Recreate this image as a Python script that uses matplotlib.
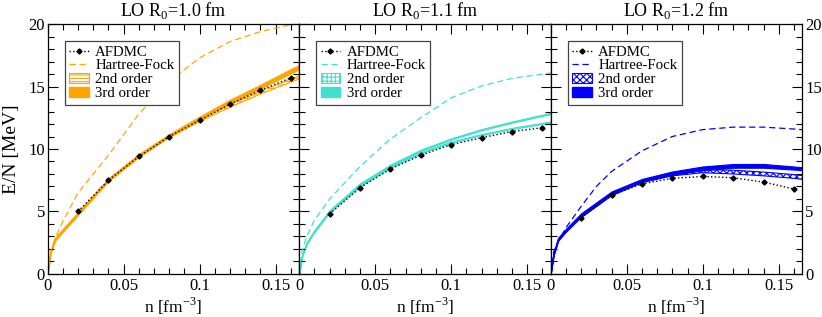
import matplotlib
matplotlib.use("Agg")
import matplotlib.pyplot as plt
from matplotlib.ticker import MultipleLocator, FuncFormatter
from matplotlib.patches import Patch
from matplotlib.lines import Line2D

plt.rcParams['font.family'] = ['Liberation Serif', 'DejaVu Serif']
plt.rcParams['mathtext.fontset'] = 'custom'
plt.rcParams['mathtext.rm'] = 'Liberation Serif'
plt.rcParams['hatch.linewidth'] = 0.8

titles = ["LO R$_0$=1.0 fm", "LO R$_0$=1.1 fm", "LO R$_0$=1.2 fm"]
colors = ["#FFA500", "#40E0D0", "#0000FF"]
hatches = ["-----", "++++", "xxxxx"]

n_afdmc = [0.02, 0.04, 0.06, 0.08, 0.10, 0.12, 0.14, 0.16]
afdmc_1 = [5.0, 7.5, 9.4, 11.0, 12.3, 13.6, 14.7, 15.7]
afdmc_2 = [4.8, 6.9, 8.4, 9.5, 10.35, 10.9, 11.4, 11.7]
afdmc_3 = [4.5, 6.3, 7.2, 7.65, 7.8, 7.7, 7.35, 6.8]

n_hf = [0, 0.002, 0.005, 0.01, 0.02, 0.03, 0.04, 0.06, 0.08, 0.10, 0.12, 0.14, 0.16, 0.17]
hf_1 = [0, 1.8, 2.9, 4.2, 6.5, 8.0, 9.5, 12.8, 15.4, 17.3, 18.6, 19.4, 19.95, 20.2]
hf_2 = [0, 1.9, 3.0, 4.3, 6.0, 7.3, 8.6, 10.8, 12.5, 14.1, 15.05, 15.65, 16.0, 16.15]
hf_3 = [0, 1.8, 2.6, 3.7, 5.4, 7.0, 8.2, 9.85, 11.0, 11.55, 11.75, 11.75, 11.6, 11.5]

n_pt = [0, 0.002, 0.005, 0.01, 0.02, 0.04, 0.06, 0.08, 0.10, 0.12, 0.14, 0.16, 0.17]
second_lo_1 = [0, 1.6, 2.6, 3.3, 4.65, 7.35, 9.3, 10.9, 12.2, 13.35, 14.4, 15.35, 15.8]
second_hi_1 = [0, 1.8, 2.8, 3.5, 4.85, 7.55, 9.45, 11.05, 12.35, 13.55, 14.6, 15.6, 16.05]
third_lo_1 = [0, 1.7, 2.7, 3.4, 4.75, 7.45, 9.4, 11.0, 12.35, 13.65, 14.85, 16.05, 16.65]
third_hi_1 = [0, 1.9, 2.9, 3.6, 4.95, 7.65, 9.6, 11.2, 12.6, 13.95, 15.15, 16.4, 17.0]

second_lo_2 = [0, 1.3, 2.3, 3.25, 4.85, 6.95, 8.45, 9.6, 10.45, 11.05, 11.55, 11.95, 12.15]
second_hi_2 = [0, 1.4, 2.4, 3.35, 4.95, 7.05, 8.55, 9.7, 10.55, 11.15, 11.65, 12.05, 12.25]
third_lo_2 = [0, 1.4, 2.45, 3.4, 5.0, 7.15, 8.65, 9.85, 10.75, 11.5, 12.1, 12.65, 12.9]
third_hi_2 = [0, 1.5, 2.55, 3.5, 5.1, 7.25, 8.75, 9.95, 10.85, 11.6, 12.2, 12.75, 13.0]

second_lo_3 = [0, 1.4, 2.6, 3.3, 4.5, 6.25, 7.3, 7.85, 8.1, 8.0, 7.85, 7.65, 7.5]
second_hi_3 = [0, 1.6, 2.8, 3.5, 4.7, 6.45, 7.5, 8.1, 8.35, 8.3, 8.15, 7.95, 7.8]
third_lo_3 = [0, 1.5, 2.7, 3.4, 4.6, 6.35, 7.4, 7.95, 8.3, 8.5, 8.5, 8.35, 8.25]
third_hi_3 = [0, 1.7, 2.9, 3.6, 4.85, 6.6, 7.6, 8.2, 8.6, 8.8, 8.8, 8.6, 8.5]

afdmc = [afdmc_1, afdmc_2, afdmc_3]
hf = [hf_1, hf_2, hf_3]
sec_lo = [second_lo_1, second_lo_2, second_lo_3]
sec_hi = [second_hi_1, second_hi_2, second_hi_3]
thr_lo = [third_lo_1, third_lo_2, third_lo_3]
thr_hi = [third_hi_1, third_hi_2, third_hi_3]

fig, axes = plt.subplots(1, 3, figsize=(8.22, 3.17), dpi=100, sharey=True)
fig.subplots_adjust(left=0.058, right=0.976, top=0.924, bottom=0.136, wspace=0)

fmt = FuncFormatter(lambda v, p: "%g" % round(v, 3))

for i, ax in enumerate(axes):
    c = colors[i]
    ax.fill_between(n_pt, sec_lo[i], sec_hi[i], facecolor='none', edgecolor=c,
                    hatch=hatches[i], linewidth=0.8)
    ax.fill_between(n_pt, thr_lo[i], thr_hi[i], facecolor=c, edgecolor=c, linewidth=0.8)
    ax.plot(n_hf, hf[i], linestyle=(0, (5, 3)), color=c, linewidth=0.9)
    ax.plot(n_afdmc, afdmc[i], linestyle=':', color='black', linewidth=1.0,
            marker='D', markersize=2.6, markerfacecolor='black', markeredgecolor='black')
    ax.set_xlim(0, 0.1655)
    ax.set_ylim(0, 20)
    ax.xaxis.set_major_locator(MultipleLocator(0.05))
    ax.xaxis.set_minor_locator(MultipleLocator(0.01))
    ax.yaxis.set_major_locator(MultipleLocator(5))
    ax.yaxis.set_minor_locator(MultipleLocator(1))
    ax.xaxis.set_major_formatter(fmt)
    ax.tick_params(which='both', direction='in', top=True, right=True, labelsize=12)
    ax.tick_params(which='major', length=7, width=0.8)
    ax.tick_params(which='minor', length=4, width=0.8)
    ax.tick_params(axis='x', pad=3)
    ax.tick_params(axis='y', pad=2)
    for s in ax.spines.values():
        s.set_linewidth(0.9)
    ax.set_title(titles[i], fontsize=13, pad=5.5)
    ax.set_xlabel("n [fm$^{-3}$]", fontsize=12.5, labelpad=1)

    handles = [
        Line2D([], [], linestyle=':', color='black', marker='D', markersize=2.6, linewidth=1.0),
        Line2D([], [], linestyle=(0, (5, 3)), color=c, linewidth=0.9),
        Patch(facecolor='none', edgecolor=c, hatch=hatches[i], linewidth=0.8),
        Patch(facecolor=c, edgecolor=c),
    ]
    leg = ax.legend(handles, ["AFDMC", "Hartree-Fock", "2nd order", "3rd order"],
                    loc='upper left', bbox_to_anchor=(0.068, 0.932), fontsize=10.7,
                    frameon=True, fancybox=False, framealpha=1, edgecolor='#444444',
                    handlelength=1.3, handletextpad=0.45, borderpad=0.3,
                    labelspacing=0.06, borderaxespad=0, handleheight=0.6)
    leg.get_frame().set_linewidth(0.9)

axes[0].set_ylabel("E/N [MeV]", fontsize=14)
axes[0].yaxis.set_label_coords(-0.112, 0.5)
axes[1].tick_params(axis='y', labelleft=False)
axes[2].tick_params(axis='y', labelleft=False, labelright=True)

fig.savefig("out.png", dpi=100)
